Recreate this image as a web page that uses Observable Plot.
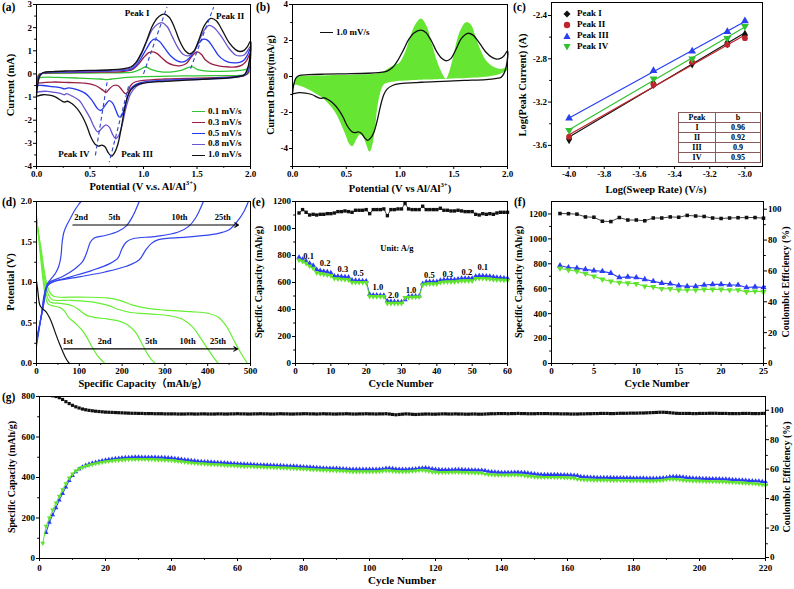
<!DOCTYPE html>
<html><head><meta charset="utf-8">
<script src="https://cdn.jsdelivr.net/npm/d3@7"></script>
<script src="https://cdn.jsdelivr.net/npm/@observablehq/plot@0.6"></script>
<style>
html,body{margin:0;padding:0;background:#fff;}
#fig{position:relative;width:794px;height:589px;overflow:hidden;background:#fff;
 font-family:"Liberation Serif","Times New Roman","Noto Sans CJK SC",serif;font-weight:bold;color:#000;}
#fig svg.p{position:absolute;overflow:visible;}
.t{position:absolute;white-space:nowrap;transform:translate(-50%,-50%);line-height:1;}
.r{transform:translate(-50%,-50%) rotate(-90deg);}
.let{position:absolute;font-size:11.5px;line-height:1;white-space:nowrap;}
.leg{position:absolute;font-size:9px;line-height:10.8px;white-space:nowrap;}
.ln{display:inline-block;width:13px;height:0;vertical-align:middle;margin-right:3px;}
sup{font-size:65%;line-height:0;}
table.bt{position:absolute;border-collapse:collapse;font-size:8px;table-layout:fixed;}
table.bt td{border:0.8px solid #8a5a5a;padding:0;text-align:center;height:9px;line-height:9px;}
</style></head><body><div id="fig"></div>
<script>
// ---------------- DATA ----------------
// (a) CV loops [V, mA]
const cv01 = [[0,-0.2],[0.01,-0.1],[0.03,0.0],[0.1,0.02],[0.5,0.04],[0.8,0.05],[0.9,0.08],[0.97,0.2],[1.02,0.3],[1.07,0.2],[1.15,0.1],[1.25,0.08],[1.35,0.15],[1.42,0.28],[1.46,0.3],[1.5,0.2],[1.6,0.12],[1.8,0.12],[1.9,0.15],[1.96,0.2],[2.0,0.3],
  [1.99,0.1],[1.96,-0.03],[1.9,-0.06],[1.5,-0.08],[1.0,-0.12],[0.8,-0.17],[0.7,-0.22],[0.65,-0.25],[0.6,-0.22],[0.4,-0.18],[0.2,-0.15],[0.05,-0.15],[0,-0.2]];
const cv03 = [[0,-0.4],[0.01,-0.2],[0.03,0.0],[0.06,0.03],[0.3,0.06],[0.6,0.08],[0.8,0.1],[0.9,0.2],[0.95,0.4],[1.0,0.7],[1.05,0.92],[1.08,0.95],[1.12,0.9],[1.17,0.7],[1.22,0.5],[1.28,0.38],[1.34,0.35],[1.4,0.45],[1.45,0.75],[1.5,0.95],[1.54,0.85],[1.58,0.6],[1.64,0.42],[1.7,0.35],[1.8,0.3],[1.86,0.3],[1.92,0.38],[1.96,0.55],[2.0,0.9],
  [1.99,0.3],[1.97,0.0],[1.94,-0.08],[1.88,-0.12],[1.8,-0.14],[1.5,-0.18],[1.2,-0.22],[1.0,-0.28],[0.92,-0.35],[0.88,-0.5],[0.85,-0.8],[0.83,-0.85],[0.8,-0.7],[0.76,-0.5],[0.72,-0.5],[0.68,-0.65],[0.65,-0.8],[0.62,-0.7],[0.55,-0.5],[0.45,-0.4],[0.3,-0.37],[0.15,-0.35],[0,-0.4]];
const cv05 = [[0,-0.5],[0.01,-0.3],[0.03,-0.05],[0.06,0.03],[0.2,0.07],[0.5,0.1],[0.8,0.15],[0.88,0.2],[0.93,0.35],[0.98,0.7],[1.03,1.1],[1.07,1.4],[1.1,1.5],[1.15,1.4],[1.2,1.1],[1.26,0.75],[1.32,0.55],[1.37,0.52],[1.42,0.65],[1.47,0.95],[1.52,1.35],[1.56,1.5],[1.6,1.45],[1.65,1.15],[1.7,0.8],[1.75,0.6],[1.8,0.5],[1.86,0.48],[1.9,0.5],[1.94,0.6],[1.97,0.8],[2.0,1.1],
  [1.99,0.4],[1.97,0.05],[1.94,-0.05],[1.9,-0.1],[1.8,-0.15],[1.6,-0.2],[1.4,-0.23],[1.2,-0.27],[1.0,-0.35],[0.93,-0.45],[0.88,-0.65],[0.85,-1.0],[0.82,-1.5],[0.79,-1.85],[0.77,-1.85],[0.74,-1.55],[0.71,-1.25],[0.68,-1.15],[0.65,-1.3],[0.62,-1.5],[0.6,-1.58],[0.57,-1.5],[0.52,-1.15],[0.46,-0.85],[0.38,-0.68],[0.3,-0.6],[0.26,-0.65],[0.23,-0.6],[0.15,-0.55],[0.06,-0.5],[0,-0.5]];
const cv08 = [[0,-0.8],[0.01,-0.45],[0.03,-0.1],[0.06,0.03],[0.2,0.08],[0.5,0.12],[0.8,0.18],[0.88,0.25],[0.93,0.45],[0.98,0.85],[1.03,1.4],[1.08,1.9],[1.13,2.15],[1.17,2.22],[1.22,2.05],[1.27,1.6],[1.32,1.15],[1.37,0.85],[1.42,0.78],[1.47,0.95],[1.52,1.45],[1.57,1.9],[1.61,2.1],[1.66,2.0],[1.73,1.6],[1.8,1.1],[1.86,0.82],[1.9,0.78],[1.94,0.82],[1.97,0.98],[2.0,1.2],
  [1.99,0.5],[1.97,0.1],[1.94,-0.05],[1.9,-0.12],[1.8,-0.18],[1.6,-0.22],[1.4,-0.26],[1.2,-0.3],[1.0,-0.4],[0.93,-0.55],[0.88,-0.85],[0.84,-1.4],[0.8,-2.2],[0.77,-2.65],[0.74,-2.8],[0.71,-2.6],[0.68,-2.3],[0.65,-2.2],[0.62,-2.3],[0.59,-2.45],[0.57,-2.5],[0.54,-2.3],[0.5,-1.9],[0.45,-1.5],[0.4,-1.15],[0.33,-0.95],[0.28,-0.85],[0.26,-0.9],[0.23,-0.85],[0.17,-0.8],[0.1,-0.75],[0.05,-0.76],[0,-0.8]];
const cv10 = [[0,-0.95],[0.01,-0.5],[0.03,-0.1],[0.06,0.05],[0.15,0.1],[0.3,0.13],[0.5,0.15],[0.7,0.18],[0.8,0.22],[0.88,0.3],[0.93,0.5],[0.98,0.9],[1.03,1.45],[1.08,2.05],[1.13,2.42],[1.19,2.58],[1.24,2.45],[1.29,2.0],[1.34,1.4],[1.39,1.0],[1.43,0.87],[1.47,0.98],[1.52,1.5],[1.57,2.1],[1.63,2.4],[1.68,2.3],[1.74,1.85],[1.8,1.35],[1.86,1.05],[1.9,0.97],[1.94,1.02],[1.97,1.17],[2.0,1.42],
  [1.99,0.6],[1.97,0.2],[1.94,-0.05],[1.9,-0.1],[1.8,-0.17],[1.6,-0.22],[1.4,-0.27],[1.2,-0.32],[1.0,-0.4],[0.93,-0.5],[0.88,-0.7],[0.85,-1.0],[0.82,-1.6],[0.79,-2.4],[0.76,-3.05],[0.73,-3.4],[0.7,-3.55],[0.67,-3.4],[0.64,-3.15],[0.61,-3.08],[0.58,-3.12],[0.55,-3.05],[0.51,-2.75],[0.47,-2.25],[0.43,-1.85],[0.38,-1.5],[0.33,-1.28],[0.29,-1.18],[0.26,-1.22],[0.23,-1.15],[0.18,-1.0],[0.12,-0.92],[0.06,-0.9],[0,-0.97]];
const cvNames = ["0.1 mV/s","0.3 mV/s","0.5 mV/s","0.8 mV/s","1.0 mV/s"];
const cvColors = ["#33c433","#9b1f45","#2438f0","#6a55d0","#111111"];
const dashA = [[1.0,0.0,1.22,2.9],[1.44,0.23,1.655,2.88],[0.86,-0.54,0.68,-3.81],[0.66,-0.36,0.55,-3.53]];
const peakTxt = ["Peak I","Peak II","Peak IV","Peak III"];
const peakX = [0.94,1.81,0.35,0.94];
const peakY = [2.61,2.48,-3.48,-3.48];

// (b) green region (common V grid) and 1.0 mV/s curve
const bV   = [0,0.02,0.05,0.1,0.2,0.3,0.4,0.45,0.5,0.53,0.56,0.6,0.63,0.66,0.69,0.72,0.74,0.77,0.8,0.85,0.9,0.95,1.0,1.05,1.1,1.15,1.2,1.25,1.3,1.35,1.4,1.43,1.46,1.5,1.55,1.6,1.63,1.67,1.7,1.75,1.8,1.85,1.9,1.95,2.0];
const bUp  = [-0.6,-0.3,-0.05,0.0,0.02,0.03,0.05,0.05,0.06,0.06,0.07,0.08,0.08,0.09,0.1,0.1,0.11,0.12,0.15,0.25,0.45,0.6,0.75,1.3,2.2,2.9,3.2,2.8,1.8,0.8,0.1,-0.15,0.2,1.1,2.3,2.9,3.0,2.8,2.3,1.5,0.9,0.6,0.45,0.4,0.5];
const bLow = [-0.6,-0.5,-0.5,-0.6,-0.9,-1.3,-2.0,-2.6,-3.3,-3.75,-3.9,-3.5,-3.25,-3.35,-3.8,-4.2,-4.0,-3.0,-1.5,-0.5,-0.35,-0.3,-0.27,-0.25,-0.23,-0.22,-0.21,-0.2,-0.19,-0.18,-0.17,-0.16,-0.15,-0.14,-0.13,-0.12,-0.11,-0.1,-0.09,-0.07,-0.04,0.0,0.05,0.15,0.3];

// (c) log peak current vs log sweep rate
const cX  = [-4.0,-3.52,-3.3,-3.1,-3.0];
const cP1 = [-3.54,-3.03,-2.84,-2.655,-2.58];
const cP2 = [-3.52,-3.04,-2.83,-2.67,-2.61];
const cP3 = [-3.35,-2.91,-2.73,-2.55,-2.45];
const cP4 = [-3.46,-2.985,-2.80,-2.61,-2.50];
const cNames = ["Peak I","Peak II","Peak III","Peak IV"];
const cColors = ["#111111","#c0242c","#2840f0","#30c030"];
const tabPeak = ["I","II","III","IV"];
const tabB = ["0.96","0.92","0.9","0.95"];

// (d) charge/discharge profiles [mAh/g, V]
const dDis1  = [[0,1.02],[3,0.9],[8,0.72],[15,0.67],[22,0.64],[30,0.57],[38,0.47],[46,0.35],[54,0.24],[62,0.14],[68,0.07],[74,0.02],[77,0.0]];
const dDis2  = [[0,1.82],[8,1.4],[16,1.0],[22,0.8],[28,0.73],[40,0.71],[55,0.69],[65,0.65],[75,0.57],[90,0.5],[105,0.42],[118,0.32],[130,0.2],[142,0.1],[152,0.04],[160,0]];
const dDis5  = [[0,1.8],[9,1.4],[18,1.0],[25,0.82],[32,0.76],[60,0.74],[85,0.71],[100,0.66],[115,0.6],[135,0.57],[165,0.55],[195,0.52],[215,0.47],[232,0.38],[245,0.26],[258,0.13],[268,0.05],[278,0]];
const dDis10 = [[0,1.78],[10,1.4],[20,1.02],[28,0.85],[36,0.79],[80,0.78],[130,0.76],[165,0.72],[190,0.67],[220,0.63],[270,0.61],[310,0.59],[340,0.55],[365,0.45],[385,0.3],[400,0.18],[413,0.08],[425,0]];
const dDis25 = [[0,1.76],[11,1.4],[22,1.03],[31,0.88],[40,0.83],[100,0.82],[165,0.81],[195,0.78],[225,0.72],[260,0.68],[300,0.66],[360,0.64],[400,0.62],[425,0.57],[445,0.45],[460,0.3],[470,0.2],[482,0.09],[493,0]];
const dChg2  = [[0,0.22],[10,0.55],[18,0.85],[25,0.98],[35,1.05],[45,1.12],[52,1.2],[57,1.32],[60,1.5],[64,1.62],[70,1.7],[78,1.78],[88,1.88],[98,1.96],[104,2.0]];
const dChg5  = [[0,0.25],[12,0.62],[22,0.92],[30,1.0],[60,1.07],[90,1.17],[108,1.26],[118,1.38],[126,1.5],[135,1.55],[160,1.58],[190,1.63],[210,1.7],[225,1.82],[240,2.0]];
const dChg10 = [[0,0.28],[14,0.65],[25,0.95],[35,1.0],[80,1.07],[130,1.15],[170,1.23],[190,1.3],[200,1.42],[210,1.5],[225,1.54],[280,1.57],[330,1.62],[355,1.69],[372,1.8],[390,2.0]];
const dChg25 = [[0,0.3],[15,0.68],[27,0.97],[40,1.01],[100,1.07],[160,1.13],[210,1.2],[240,1.28],[255,1.4],[268,1.48],[285,1.53],[350,1.56],[420,1.6],[450,1.65],[470,1.76],[485,1.88],[495,2.0]];
const dArrows = [[85,1.71,472,1.71],[64,0.18,470,0.18]];
const dTxt = ["2nd","5th","10th","25th","1st","2nd","5th","10th","25th"];
const dTxtX = [104,182,334,435,73,159,268,353,424];
const dTxtY = [1.8,1.8,1.8,1.8,0.27,0.27,0.27,0.27,0.27];

// (e) rate performance, cycles 1-60
const eBlue = [787,772,758,742,727, 695,688,683,678,672, 648,646,644,642,640, 617,615,614,612,611,
  512,507,506,505,504, 462,460,458,457,456, 472,497,500,500,500, 592,605,606,606,606,
  616,620,621,621,621, 626,630,631,631,631, 646,650,649,647,646, 642,638,636,633,631];
const eGreen = [765,757,742,722,706, 672,666,661,656,651, 630,627,624,622,620, 601,600,600,600,599,
  497,495,495,495,495, 446,445,445,445,445, 488,490,491,492,493, 582,589,590,590,590,
  600,604,605,605,605, 609,612,612,612,612, 629,630,630,628,626, 622,620,619,617,616];
const eBlack = [1115,1140,1120,1100,1105,1100,1105,1105,1110,1110,1115,1125,1125,1130,1125,1120,1135,1135,1135,1140,
  1110,1140,1140,1140,1145,1095,1140,1140,1145,1145,1185,1145,1140,1140,1140,1165,1140,1140,1140,1140,
  1150,1135,1135,1130,1130,1135,1130,1125,1125,1125,1105,1100,1110,1105,1110,1105,1115,1120,1120,1120];
const rateTxt = ["0.1","0.2","0.3","0.5","1.0","2.0","1.0","0.5","0.3","0.2","0.1"];
const rateX = [3.7,8.4,13.4,17.8,23.3,27.7,32.7,37.9,43.1,48.5,53];
const rateY = [798,743,701,669,565,506,546,650,664,679,711];

// (f) cycling 25 cycles
const fBlue  = [785,770,765,755,745,740,725,690,695,690,675,660,645,640,625,620,620,630,635,635,630,630,610,615,610];
const fGreen = [765,750,740,720,700,675,660,650,645,640,620,615,600,600,590,590,590,595,595,595,590,590,575,580,575];
const fCE    = [97.2,97.1,96.8,95.0,94.8,92.2,92.0,94.6,93.0,93.0,92.5,94.3,94.3,95.0,94.8,96.0,95.6,95.3,94.3,94.0,94.3,94.5,94.6,94.6,94.2];

// (g) long cycling 220 cycles
const gBlue = [128,178,215,250,288,320,352,385,410,428, 442,452,460,466,471,475,479,483,486,489,
  491,493,495,497,498,499,500,501,501,500, 500,500,500,500,499,499,498,497,496,494,
  492,490,488,486,484,482,480,479,478,477, 476,475,474,473,472,471,470,469,468,467,
  466,465,465,464,463,462,462,461,460,460, 459,459,458,457,456,456,455,454,453,452,
  451,450,449,448,447,446,446,445,445,444, 443,442,441,440,440,440,440,440,440,440,
  440,441,442,445,446,444,442,441,440,440, 441,442,443,445,447,448,446,443,440,439,
  438,438,438,438,439,439,439,438,438,437, 437,436,436,434,430,428,427,426,425,425,
  425,425,426,426,425,424,422,420,418,416, 415,414,414,414,414,414,413,413,412,412,
  411,410,405,403,402,401,401,400,400,400, 400,400,399,399,399,398,398,398,397,397,
  397,397,396,396,396,396,397,398,400,403, 405,405,404,402,400,398,397,396,396,395,
  395,394,394,393,393,392,392,391,390,389, 388,387,386,385,384,383,382,380,378]; // cycles 2-220
const gGreen = [76,160,200,240,275,308,340,370,398,418, 432,442,450,456,461,465,469,472,475,478,
  480,482,484,486,487,488,489,490,490,490, 490,490,489,489,488,487,487,486,485,484,
  482,480,478,476,474,472,470,469,468,467, 466,465,464,463,462,461,460,459,458,457,
  456,455,455,454,453,452,452,451,450,450, 449,449,448,447,446,446,445,444,443,442,
  441,440,439,438,437,436,436,435,435,434, 433,432,431,430,429,429,429,429,429,429,
  429,429,430,432,434,433,431,430,429,429, 429,430,431,433,435,436,434,431,428,426,
  425,425,425,425,426,426,426,425,425,424, 424,423,423,421,417,415,414,413,412,412,
  412,412,413,413,412,411,409,407,405,403, 402,401,401,401,401,401,400,400,399,399,
  398,397,392,390,389,388,388,387,387,387, 387,387,386,386,386,385,385,385,384,384,
  384,384,383,383,383,383,384,385,387,390, 392,392,391,389,387,385,384,383,383,382,
  382,381,381,380,380,379,379,378,377,376, 375,374,373,372,371,370,369,367,365,362]; // cycles 1-220
const gCE = [115,113,111,110.5,110,109.2,108,106.5,105.2,104, 103,102.2,101.5,101,100.6,100.3,100,99.8,99.6,99.4,
  99.3,99.2,99.1,99,98.9, 98.8,98.7,98.6,98.6,98.5,98.5,98.4,98.4,98.4,98.3,
  98.3,98.3,98.2,98.2,98.2,98.2,98.1,98.1,98.1,98.2, 98.2,98.1,98.1,98.2,98.2,98.1,98.1,98.1,98.2,98.2,
  98.1,98.1,98.2,98.2,98.3,98.2,98.2,98.1,98.1,98.2, 98.2,98.3,98.2,98.2,98.1,98.1,98.2,98.3,98.2,98.2,
  98.1,98.1,98.2,98.2,98.3,98.3,98.2,98.2,98.1,98.2, 98.3,98.2,98.2,98.1,98.1,98.2,98.2,98.3,98.2,98.1,
  98.1,98.2,98.2,98.3,98.2,98.2,98.1,98.2,98.2,98.3, 98.1,97.8,97.6,97.8,98.0,98.2,98.1,97.9,97.8,97.9,
  98.0,98.1,98.1,98.0,98.0,98.1,98.2,98.2,98.1,98.1, 98.2,98.1,98.1,98.0,98.0,98.1,98.1,98.0,98.0,98.1,
  98.2,98.3,98.3,98.4,98.4,98.4,98.3,98.4,98.4,98.5, 98.4,98.4,98.3,98.3,98.3,98.4,98.4,98.4,98.4,98.3,
  98.3,98.3,98.2,98.2,98.2,98.1,98.1,98.1,98.2,98.2, 98.3,98.3,98.4,98.4,98.5,98.5,98.5,98.4,98.4,98.5,
  98.6,98.6,98.6,98.7,98.7,98.7,98.8,98.8,98.9,99.0, 99.1,99.2,99.3,99.3,99.2,99.0,98.8,98.6,98.5,98.5,
  98.5,98.5,98.4,98.4,98.5,98.5,98.5,98.6,98.6,98.6, 98.5,98.5,98.5,98.4,98.4,98.4,98.4,98.5,98.5,98.5,
  98.4,98.4,98.4,98.5,98.5];

// ---------------- DRAWING ----------------
const fig = document.getElementById("fig");
const FONT = '"Liberation Serif","Times New Roman",serif';
const base = {fontFamily: FONT, fontSize: "9px", fontWeight: "bold", background: "none", overflow: "visible", color: "#000"};
const BLUE = "#2a3cf5", GREEN = "#5fe32d";
const triDown = {draw(ctx, size){ const y = -Math.sqrt(size / (Math.sqrt(3) * 3)); ctx.moveTo(0, -y * 2); ctx.lineTo(-Math.sqrt(3) * y, y); ctx.lineTo(Math.sqrt(3) * y, y); ctx.closePath(); }};

function P(left, top, opts){
  const svg = Plot.plot({style: base, ...opts});
  svg.classList.add("p");
  svg.style.left = left + "px"; svg.style.top = top + "px";
  fig.appendChild(svg);
}
function ax(dim, ticks, fmt, extra = {}){
  return (dim === "x" ? Plot.axisX : Plot.axisY)(ticks, {tickSize: 3, tickPadding: 1.5, tickFormat: fmt, label: null, ...extra});
}
function mn(dim, ticks, extra = {}){
  return (dim === "x" ? Plot.axisX : Plot.axisY)(ticks, {tickSize: 1.8, tickFormat: () => "", label: null, ...extra});
}
const f1 = d => d.toFixed(1), f0 = d => String(d);
const pt = {x: d => d[0], y: d => d[1]};

// (a)
P(0, 0, {width: 265, height: 195, marginLeft: 36, marginRight: 15, marginTop: 4, marginBottom: 29,
  x: {domain: [0, 2], label: null}, y: {domain: [-4, 3], label: null},
  marks: [
    mn("x", d3.range(0.25, 2, 0.5)), ax("x", [0, 0.5, 1, 1.5, 2], f1),
    mn("y", d3.range(-3.5, 3, 1)), ax("y", d3.range(-4, 4, 1), f0),
    ...[cv01, cv03, cv05, cv08, cv10].map((c, i) => Plot.line(c, {...pt, stroke: cvColors[i], strokeWidth: 1.3, curve: "catmull-rom"})),
    Plot.link(dashA, {x1: d => d[0], y1: d => d[1], x2: d => d[2], y2: d => d[3], stroke: "#2a44c8", strokeWidth: 1.1, strokeDasharray: "4,3"}),
    Plot.text(peakTxt, {x: (d, i) => peakX[i], y: (d, i) => peakY[i], text: d => d, fontSize: 9, fontWeight: "bold"}),
    Plot.frame({stroke: "#000"})
  ]});

// (b)
P(265, 0, {width: 265, height: 195, marginLeft: 27, marginRight: 23, marginTop: 4, marginBottom: 29,
  x: {domain: [0, 2], label: null}, y: {domain: [-5, 4], label: null},
  marks: [
    mn("x", d3.range(0.25, 2, 0.5)), ax("x", [0, 0.5, 1, 1.5, 2], f1),
    mn("y", d3.range(-5, 4, 2)), ax("y", [-4, -2, 0, 2, 4], f0),
    Plot.areaY(bV, {x: d => d, y1: (d, i) => bLow[i], y2: (d, i) => bUp[i], fill: "#66e633", curve: "catmull-rom"}),
    Plot.line(cv10, {...pt, stroke: "#111", strokeWidth: 1.3, curve: "catmull-rom"}),
    Plot.frame({stroke: "#000"})
  ]});

// (c)
const cSeries = [cP1, cP2, cP3, cP4];
const cSym = ["diamond", "circle", "triangle", triDown];
P(500, 0, {width: 294, height: 195, marginLeft: 51, marginRight: 32, marginTop: 2, marginBottom: 29,
  x: {domain: [-4.1, -2.9], label: null}, y: {domain: [-3.795, -2.28], label: null},
  marks: [
    mn("x", d3.range(-3.9, -2.95, 0.2)), ax("x", [-4.0, -3.8, -3.6, -3.4, -3.2, -3.0], f1),
    mn("y", [-2.6, -3.0, -3.4]), ax("y", [-2.4, -2.8, -3.2, -3.6], f1),
    ...cSeries.map((s, k) => Plot.linearRegressionY(s, {x: (d, i) => cX[i], y: d => d, stroke: cColors[k], strokeWidth: 1.2, ci: 0})),
    ...cSeries.map((s, k) => Plot.dot(s, {x: (d, i) => cX[i], y: d => d, symbol: cSym[k], fill: cColors[k], r: k === 0 ? 3.2 : 2.9, stroke: "none"})),
    Plot.frame({stroke: "#000"})
  ]});

// (d)
P(0, 195, {width: 265, height: 195, marginLeft: 36, marginRight: 15, marginTop: 6, marginBottom: 27,
  x: {domain: [0, 500], label: null}, y: {domain: [0, 2], label: null},
  marks: [
    mn("x", d3.range(50, 500, 100)), ax("x", d3.range(0, 501, 100), f0),
    mn("y", d3.range(0.25, 2, 0.5)), ax("y", [0, 0.5, 1, 1.5, 2], f1),
    ...[dDis2, dDis5, dDis10, dDis25].map(c => Plot.line(c, {...pt, stroke: "#66ee33", strokeWidth: 1.2, curve: "catmull-rom"})),
    ...[dChg2, dChg5, dChg10, dChg25].map(c => Plot.line(c, {...pt, stroke: "#3345ee", strokeWidth: 1.2, curve: "catmull-rom"})),
    Plot.line(dDis1, {...pt, stroke: "#111", strokeWidth: 1.2, curve: "catmull-rom"}),
    Plot.arrow(dArrows, {x1: d => d[0], y1: d => d[1], x2: d => d[2], y2: d => d[3], stroke: "#000", strokeWidth: 1.1, headLength: 6}),
    Plot.text(dTxt, {x: (d, i) => dTxtX[i], y: (d, i) => dTxtY[i], text: d => d, fontSize: 8.5, fontWeight: "bold"}),
    Plot.frame({stroke: "#000"})
  ]});

// (e)
const eCyc = d3.range(1, 61);
P(265, 195, {width: 265, height: 195, marginLeft: 30, marginRight: 23, marginTop: 6, marginBottom: 27,
  x: {domain: [0, 60], label: null}, y: {domain: [0, 1200], label: null},
  marks: [
    mn("x", d3.range(5, 60, 10)), ax("x", d3.range(0, 61, 10), f0),
    mn("y", d3.range(100, 1200, 200)), ax("y", d3.range(0, 1201, 200), f0),
    Plot.line(eBlack, {x: (d, i) => eCyc[i], y: d => d, stroke: "#111", strokeWidth: 0.8}),
    Plot.dot(eBlack, {x: (d, i) => eCyc[i], y: d => d, symbol: "square", fill: "#111", r: 1.9}),
    Plot.line(eBlue, {x: (d, i) => eCyc[i], y: d => d, stroke: BLUE, strokeWidth: 1}),
    Plot.dot(eBlue, {x: (d, i) => eCyc[i], y: d => d, symbol: "triangle", fill: BLUE, r: 2}),
    Plot.line(eGreen, {x: (d, i) => eCyc[i], y: d => d, stroke: GREEN, strokeWidth: 1}),
    Plot.dot(eGreen, {x: (d, i) => eCyc[i], y: d => d, symbol: triDown, fill: GREEN, r: 2}),
    Plot.text(rateTxt, {x: (d, i) => rateX[i], y: (d, i) => rateY[i], text: d => d, fontSize: 8.5, fontWeight: "bold"}),
    Plot.text(["Unit: A/g"], {x: 28.7, y: 850, text: d => d, fontSize: 8.5, fontWeight: "bold"}),
    Plot.frame({stroke: "#000"})
  ]});

// (f)
const fCyc = d3.range(1, 26);
const toF = d3.scaleLinear([0, 105], [0, 1300]);
P(530, 195, {width: 264, height: 195, marginLeft: 21, marginRight: 31, marginTop: 6, marginBottom: 27,
  x: {domain: [0, 25], label: null}, y: {domain: [0, 1300], label: null},
  marks: [
    mn("x", d3.range(2.5, 25, 5)), ax("x", d3.range(0, 26, 5), f0),
    mn("y", d3.range(100, 1300, 200)), ax("y", d3.range(0, 1201, 200), f0),
    mn("y", d3.range(10, 101, 20).map(toF), {anchor: "right"}),
    ax("y", d3.range(0, 101, 20).map(toF), d => String(Math.round(toF.invert(d))), {anchor: "right"}),
    Plot.line(fCE, {x: (d, i) => fCyc[i], y: d => toF(d), stroke: "#111", strokeWidth: 0.8}),
    Plot.dot(fCE, {x: (d, i) => fCyc[i], y: d => toF(d), symbol: "square", fill: "#111", r: 2}),
    Plot.line(fBlue, {x: (d, i) => fCyc[i], y: d => d, stroke: BLUE, strokeWidth: 1.1}),
    Plot.dot(fBlue, {x: (d, i) => fCyc[i], y: d => d, symbol: "triangle", fill: BLUE, r: 2.3}),
    Plot.line(fGreen, {x: (d, i) => fCyc[i], y: d => d, stroke: GREEN, strokeWidth: 1.1}),
    Plot.dot(fGreen, {x: (d, i) => fCyc[i], y: d => d, symbol: triDown, fill: GREEN, r: 2.3}),
    Plot.frame({stroke: "#000"})
  ]});

// (g)
const toG = d3.scaleLinear([0, 110], [0, 800]);
P(0, 390, {width: 794, height: 199, marginLeft: 39, marginRight: 29, marginTop: 6, marginBottom: 31,
  x: {domain: [0, 220], label: null}, y: {domain: [0, 800], label: null},
  marks: [
    mn("x", d3.range(10, 220, 20)), ax("x", d3.range(0, 221, 20), f0, {tickPadding: 3}),
    mn("y", d3.range(100, 800, 200)), ax("y", d3.range(0, 801, 200), f0),
    mn("y", d3.range(10, 101, 20).map(toG), {anchor: "right"}),
    ax("y", d3.range(0, 101, 20).map(toG), d => String(Math.round(toG.invert(d))), {anchor: "right", dy: -1}),
    Plot.dot(gCE, {x: (d, i) => i + 1, y: d => toG(d), symbol: "square", fill: "#111", r: 1.8, clip: true}),
    Plot.line(gBlue, {x: (d, i) => i + 2, y: d => d, stroke: BLUE, strokeWidth: 1}),
    Plot.dot(gBlue, {x: (d, i) => i + 2, y: d => d, symbol: "triangle", fill: BLUE, r: 1.8}),
    Plot.line(gGreen, {x: (d, i) => i + 1, y: d => d, stroke: GREEN, strokeWidth: 1}),
    Plot.dot(gGreen, {x: (d, i) => i + 1, y: d => d, symbol: triDown, fill: GREEN, r: 1.8}),
    Plot.frame({stroke: "#000"})
  ]});

// ---------------- HTML TEXT ----------------
function T(html, x, y, size, rot){
  const d = document.createElement("div");
  d.className = "t" + (rot ? " r" : "");
  d.style.left = x + "px"; d.style.top = y + "px"; d.style.fontSize = size + "px";
  d.innerHTML = html; fig.appendChild(d);
}
function L(txt, x, y){
  const d = document.createElement("div"); d.className = "let";
  d.style.left = x + "px"; d.style.top = y + "px"; d.textContent = txt; fig.appendChild(d);
}
L("(a)", 2, 2); L("(b)", 256, 2); L("(c)", 513, 2);
L("(d)", 2, 197); L("(e)", 252, 197); L("(f)", 514, 197); L("(g)", 2, 392);

T("Current (mA)", 11, 85, 10.5, true);
T("Potential (V v.s. Al/Al<sup>3+</sup>)", 143, 187, 10.5);
T("Current Density(mA/g)", 271, 85, 10, true);
T("Potential (V vs Al/Al<sup>3+</sup>)", 400, 189, 10.5);
T("Log(Peak Current) (A)", 523, 85, 10.5, true);
T("Log(Sweep Rate) (V/s)", 656, 190, 10.5);
T("Potential (V)", 11, 282, 10.5, true);
T("Specific Capacity（mAh/g）", 143, 384, 10.5);
T("Specific Capacity (mAh/g)", 259, 282, 10, true);
T("Cycle Number", 401, 384, 10.5);
T("Specific Capacity (mAh/g)", 519, 282, 10, true);
T("Coulombic Efficiency (%)", 786, 282, 10, true);
T("Cycle Number", 657, 384, 10.5);
T("Specific Capacity (mAh/g)", 12, 477, 10, true);
T("Coulombic Efficiency (%)", 787, 477, 10, true);
T("Cycle Number", 402, 580, 11);

// legend (a)
{
  const d = document.createElement("div"); d.className = "leg";
  d.style.left = "192px"; d.style.top = "106px";
  d.innerHTML = cvNames.map((n, i) => `<div><span class="ln" style="border-top:1.8px solid ${cvColors[i]}"></span>${n}</div>`).join("");
  fig.appendChild(d);
}
// legend (b)
{
  const d = document.createElement("div"); d.className = "leg";
  d.style.left = "320px"; d.style.top = "27px";
  d.innerHTML = `<div><span class="ln" style="border-top:1.3px solid #111"></span>1.0 mV/s</div>`;
  fig.appendChild(d);
}
// legend (c)
{
  const shapes = [
    c => `<path d="M4,0.5L7.5,4L4,7.5L0.5,4Z" fill="${c}"/>`,
    c => `<circle cx="4" cy="4" r="3.2" fill="${c}"/>`,
    c => `<path d="M4,0.6L7.6,7L0.4,7Z" fill="${c}"/>`,
    c => `<path d="M4,7.4L7.6,1L0.4,1Z" fill="${c}"/>`
  ];
  const d = document.createElement("div"); d.className = "leg";
  d.style.left = "563px"; d.style.top = "8px"; d.style.lineHeight = "11px";
  d.innerHTML = cNames.map((n, i) => `<div><svg width="8" height="8" style="vertical-align:middle;margin-right:6px">${shapes[i](cColors[i])}</svg>${n}</div>`).join("");
  fig.appendChild(d);
}
// table (c)
{
  const t = document.createElement("table"); t.className = "bt";
  t.style.left = "678px"; t.style.top = "112px"; t.style.width = "82px";
  t.innerHTML = `<colgroup><col style="width:37px"><col style="width:45px"></colgroup>` +
    `<tr><td>Peak</td><td>b</td></tr>` + tabPeak.map((p, i) => `<tr><td>${p}</td><td>${tabB[i]}</td></tr>`).join("");
  fig.appendChild(t);
}
</script></body></html>
